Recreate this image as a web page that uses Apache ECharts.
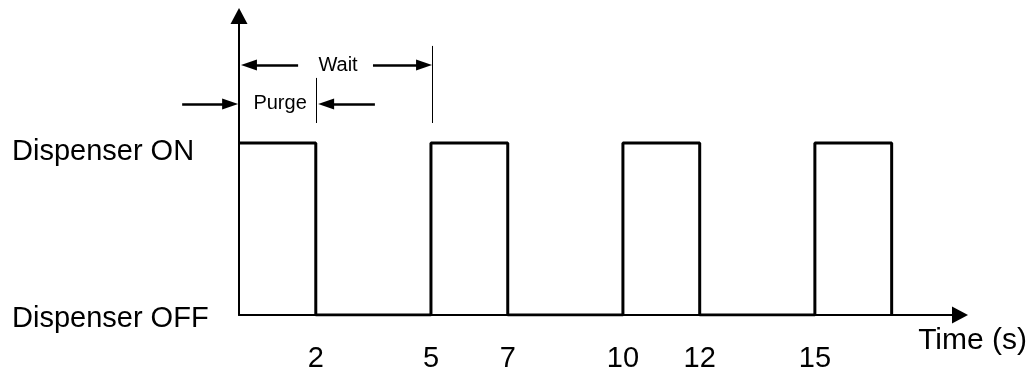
<!DOCTYPE html>
<html>
<head>
<meta charset="utf-8">
<script src="https://cdn.jsdelivr.net/npm/echarts@6/dist/echarts.min.js"></script>
<style>
  html, body { margin: 0; padding: 0; background: #fff; }
  #chart { width: 1030px; height: 372px; }
</style>
</head>
<body>
<div id="chart"></div>
<script>
// dispenser signal: switch times (s) and the level reached there (1 = ON, 0 = OFF)
var switchTimes = [0, 2, 5, 7, 10, 12, 15, 17];
var switchLevels = [1, 0, 1, 0, 1, 0, 1, 0];
var tickLabels = [2, 5, 7, 10, 12, 15];
var levelNames = ['Dispenser OFF', 'Dispenser ON'];

var FONT = "'Liberation Sans', Arial, Helvetica, sans-serif";
var myChart = echarts.init(document.getElementById('chart'));

var signal = [];
for (var i = 0; i < switchTimes.length; i++) {
    signal.push([switchTimes[i], switchLevels[i]]);
}

// arrow helper for the Wait / Purge annotations
function arrow(x0, x1, y) {
    return [
        { coord: [x0, y], symbol: 'none' },
        { coord: [x1, y], symbol: 'triangle', symbolSize: [11, 16] }
    ];
}
function bar(x, y0, y1) {
    return [
        { coord: [x, y0], symbol: 'none', lineStyle: { width: 1 } },
        { coord: [x, y1], symbol: 'none', lineStyle: { width: 1 } }
    ];
}

// second (hidden) grid on the same scale, reaching left of t=0 for the Purge arrow
var annoGrid = { left: 239 - 2 * 38.4, right: 70, top: 16, bottom: 57, outerBoundsMode: 'none' };

var option = {
    animation: false,
    grid: [
        { left: 239, right: 70, top: 16, bottom: 57, containLabel: false, outerBoundsMode: 'none' },
        annoGrid
    ],
    xAxis: [{
        type: 'value',
        gridIndex: 0,
        min: 0,
        max: 18.78,
        name: 'Time (s)',
        nameLocation: 'end',
        nameGap: 67,
        nameTextStyle: {
            fontFamily: FONT, fontSize: 30, color: '#000',
            align: 'right', verticalAlign: 'top', padding: [11, 0, 0, 0]
        },
        axisLine: {
            onZero: true,
            symbol: ['none', 'triangle'],
            symbolSize: [17, 16],
            lineStyle: { color: '#000', width: 2 }
        },
        axisTick: { show: false },
        splitLine: { show: false },
        axisLabel: {
            customValues: tickLabels,
            fontFamily: FONT, fontSize: 29, color: '#000', margin: 29
        }
    }, {
        type: 'value',
        gridIndex: 1,
        min: -2,
        max: 18.78,
        show: false
    }],
    yAxis: [{
        type: 'value',
        gridIndex: 0,
        min: 0,
        max: 1.738,
        axisLine: {
            onZero: true,
            symbol: ['none', 'triangle'],
            symbolSize: [17, 16],
            lineStyle: { color: '#000', width: 2 }
        },
        axisTick: { show: false },
        splitLine: { show: false },
        axisLabel: {
            customValues: [0, 1],
            align: 'left',
            margin: 227,
            fontFamily: FONT, fontSize: 29, color: '#000',
            formatter: function (v) {
                return v === 1 ? '{on|' + levelNames[1] + '}' : '{off|' + levelNames[0] + '}';
            },
            rich: {
                on: { fontFamily: FONT, fontSize: 29, color: '#000', padding: [19, 0, 0, 0] },
                off: { fontFamily: FONT, fontSize: 29, color: '#000', padding: [7, 0, 0, 0] }
            }
        }
    }, {
        type: 'value',
        gridIndex: 1,
        min: 0,
        max: 1.738,
        show: false
    }],
    series: [
        {
            type: 'line',
            step: 'end',
            data: signal,
            symbol: 'none',
            lineStyle: { color: '#000', width: 3 }
        },
        {
            type: 'line',
            xAxisIndex: 1,
            yAxisIndex: 1,
            data: [],
            markLine: {
                silent: true,
                label: { show: false },
                lineStyle: { color: '#000', width: 2.5, type: 'solid' },
                data: [
                    arrow(1.54, 0.26, 1.453),
                    arrow(3.49, 4.82, 1.453),
                    arrow(-1.48, -0.23, 1.227),
                    arrow(3.54, 2.27, 1.227),
                    bar(5.03, 1.116, 1.564),
                    bar(2.02, 1.116, 1.378)
                ]
            },
            markPoint: {
                silent: true,
                symbolSize: 0,
                label: {
                    show: true, position: 'inside', formatter: '{b}',
                    fontFamily: FONT, fontSize: 20, color: '#000'
                },
                data: [
                    { name: 'Wait', coord: [2.58, 1.453] },
                    { name: 'Purge', coord: [1.07, 1.227] }
                ]
            }
        }
    ]
};
myChart.setOption(option);
</script>
</body>
</html>
